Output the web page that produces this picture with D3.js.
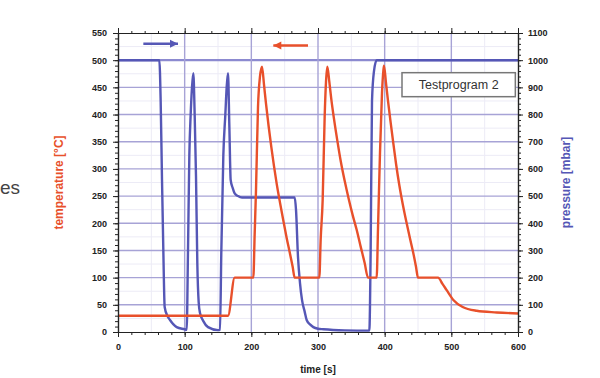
<!DOCTYPE html>
<html>
<head>
<meta charset="utf-8">
<script src="https://cdn.jsdelivr.net/npm/d3@7"></script>
<style>
  html, body { margin: 0; padding: 0; background: #fff; }
  svg { display: block; }
  text { font-family: "Liberation Sans", Arial, sans-serif; }
</style>
</head>
<body>
<script>
// values: time [s] and value
const tempTime  = [0, 165, 175, 203, 205, 207, 210, 213, 216, 219, 222, 226, 230, 234, 238, 243, 248, 253, 258, 262, 265,
                   300, 302, 304, 307, 310, 312, 314, 317, 320, 324, 329, 334, 340, 346, 352, 358, 364, 370, 375,
                   388, 390, 393, 396, 398, 399, 402, 405, 409, 413, 417, 422, 427, 433, 438, 443, 447, 450,
                   480, 487, 493, 503, 517, 538, 568, 600];
const tempValue = [30, 30, 100, 100, 180, 261, 414, 470, 488, 455, 420, 378, 340, 305, 273, 238, 205, 173, 144, 120, 100,
                   100, 100, 170, 243, 396, 460, 488, 460, 428, 392, 352, 315, 278, 245, 215, 188, 157, 127, 100,
                   100, 190, 330, 440, 480, 490, 458, 425, 385, 347, 310, 270, 236, 200, 172, 145, 120, 100,
                   100, 88, 77, 59, 46, 39, 36, 34];

const presTime  = [0, 62, 64, 66, 68, 70, 74, 78, 88, 100, 103, 105, 107, 109, 111, 113, 115, 117, 119, 121, 123,
                   128, 135, 150, 153, 155, 158, 161, 163, 165, 167, 169, 172, 175, 180, 186, 265, 267, 270, 273,
                   276, 280, 283, 288, 293, 300, 308, 340, 377, 379, 381, 384, 388, 600];
const presValue = [1000, 1000, 850, 560, 300, 92, 60, 44, 18, 10, 8, 300, 650, 800, 900, 952, 800, 573, 250, 110, 70,
                   40, 18, 7, 8, 300, 650, 800, 900, 952, 760, 560, 530, 510, 500, 495, 495, 450, 276, 180,
                   118, 75, 44, 28, 18, 12, 10, 6, 5, 300, 850, 960, 1000, 1000];

const timeTicks = [0, 100, 200, 300, 400, 500, 600];
const tempTicks = d3.range(0, 551, 50);
const presTicks = d3.range(0, 1101, 100);

const W = 600, H = 378;
const red = "#e8502b", blue = "#5557b6", grid = "#a7a3d6";

const svg = d3.select("body").append("svg").attr("width", W).attr("height", H);

const x  = d3.scaleLinear().domain([0, 600]).range([118, 518]);
const yT = d3.scaleLinear().domain([0, 550]).range([332, 33]);
const yP = d3.scaleLinear().domain([0, 1100]).range([332, 33]);

// text fragment at the left edge
svg.append("text").attr("x", 0).attr("y", 194).attr("font-size", 19).attr("fill", "#444").text("es");

// faint minor grid
const gMinor = svg.append("g").attr("stroke", "#ecebf6").attr("stroke-width", 1);
gMinor.selectAll("line.h").data(d3.range(25, 550, 50)).enter().append("line")
  .attr("x1", x(0)).attr("x2", x(600)).attr("y1", d => yT(d)).attr("y2", d => yT(d));
gMinor.selectAll("line.v").data(d3.range(50, 600, 100)).enter().append("line")
  .attr("y1", yT(0)).attr("y2", yT(550)).attr("x1", d => x(d)).attr("x2", d => x(d));

// major grid
const gGrid = svg.append("g").attr("stroke", grid).attr("stroke-width", 1.4);
gGrid.selectAll("line.h").data(tempTicks.filter(d => d > 0 && d < 550)).enter().append("line")
  .attr("x1", x(0)).attr("x2", x(600)).attr("y1", d => yT(d)).attr("y2", d => yT(d))
  .attr("stroke", d => d === 500 ? "#8c8ad0" : grid)
  .attr("stroke-width", d => d === 500 ? 2.2 : 1.4);
gGrid.selectAll("line.v").data(timeTicks.filter(d => d > 0 && d < 600)).enter().append("line")
  .attr("y1", yT(0)).attr("y2", yT(550)).attr("x1", d => x(d)).attr("x2", d => x(d));

// curves
const tempLine = d3.line().x((d, i) => x(tempTime[i])).y(d => yT(d)).curve(d3.curveMonotoneX);
const presLine = d3.line().x((d, i) => x(presTime[i])).y(d => yP(d)).curve(d3.curveMonotoneX);

svg.append("path").attr("d", presLine(presValue))
  .attr("fill", "none").attr("stroke", blue).attr("stroke-width", 2.4).attr("stroke-linejoin", "round");
svg.append("path").attr("d", tempLine(tempValue))
  .attr("fill", "none").attr("stroke", red).attr("stroke-width", 2.4).attr("stroke-linejoin", "round");

// axes
const fmtAxis = g => {
  g.select(".domain").attr("stroke", "#222").attr("stroke-width", 1.2);
  g.selectAll(".tick line").attr("stroke", "#222");
  g.selectAll(".tick text").attr("font-size", 9).attr("font-weight", "bold").attr("fill", "#222")
    .attr("font-family", "'Liberation Sans', Arial, sans-serif");
};
const minor = (axis, vals) => axis.tickValues(vals).tickFormat("").tickSizeOuter(0);

svg.append("g").attr("transform", `translate(0,${yT(0)})`)
  .call(minor(d3.axisBottom(x).tickSize(3), d3.range(0, 601, 20))).call(fmtAxis);
svg.append("g").attr("transform", `translate(0,${yT(0)})`)
  .call(d3.axisBottom(x).tickValues(timeTicks).tickSize(5).tickPadding(7).tickSizeOuter(0)).call(fmtAxis);

svg.append("g").attr("transform", `translate(0,${yT(550)})`)
  .call(minor(d3.axisTop(x).tickSize(2), d3.range(0, 601, 20))).call(fmtAxis);
svg.append("g").attr("transform", `translate(0,${yT(550)})`)
  .call(d3.axisTop(x).tickValues(timeTicks).tickSize(5).tickFormat("").tickSizeOuter(0)).call(fmtAxis);

svg.append("g").attr("transform", `translate(${x(0)},0)`)
  .call(minor(d3.axisLeft(yT).tickSize(3), d3.range(0, 551, 10))).call(fmtAxis);
svg.append("g").attr("transform", `translate(${x(0)},0)`)
  .call(d3.axisLeft(yT).tickValues(tempTicks).tickSize(5).tickPadding(6).tickSizeOuter(0)).call(fmtAxis);

svg.append("g").attr("transform", `translate(${x(600)},0)`)
  .call(minor(d3.axisRight(yP).tickSize(3), d3.range(0, 1101, 20))).call(fmtAxis);
svg.append("g").attr("transform", `translate(${x(600)},0)`)
  .call(d3.axisRight(yP).tickValues(presTicks).tickFormat(d3.format("d"))
    .tickSize(5).tickPadding(5).tickSizeOuter(0)).call(fmtAxis);

// axis titles
svg.append("text").attr("transform", `translate(${x(300)},${H - 5})`)
  .attr("text-anchor", "middle").attr("font-size", 10).attr("font-weight", "bold").attr("fill", "#222")
  .text("time [s]");
svg.append("text").attr("transform", `translate(63,${(yT(0) + yT(550)) / 2}) rotate(-90)`)
  .attr("text-anchor", "middle").attr("font-size", 12).attr("font-weight", "bold").attr("fill", red)
  .text("temperature [°C]");
svg.append("text").attr("transform", `translate(570,${(yT(0) + yT(550)) / 2}) rotate(-90)`)
  .attr("text-anchor", "middle").attr("font-size", 12).attr("font-weight", "bold").attr("fill", blue)
  .text("pressure [mbar]");

// direction arrows
const arrow = (x1, x2, y, c) => {
  svg.append("line").attr("x1", x(x1)).attr("x2", x(x2)).attr("y1", yT(y)).attr("y2", yT(y))
    .attr("stroke", c).attr("stroke-width", 2.5);
  const dir = x2 > x1 ? 1 : -1, tip = x(x2);
  svg.append("path")
    .attr("d", `M${tip},${yT(y)} L${tip - dir * 8},${yT(y) - 4} L${tip - dir * 8},${yT(y) + 4} Z`)
    .attr("fill", c);
};
arrow(38, 90, 530, blue);
arrow(285, 233, 527, red);

// legend box
const lg = svg.append("g").attr("transform", `translate(${x(426)},${yT(477)})`);
lg.append("rect").attr("width", x(596) - x(426)).attr("height", 24)
  .attr("fill", "#fff").attr("stroke", "#777").attr("stroke-width", 1.5);
lg.append("text").attr("x", (x(596) - x(426)) / 2).attr("y", 16.5).attr("text-anchor", "middle")
  .attr("font-size", 12.5).attr("fill", "#333").text("Testprogram 2");
</script>
</body>
</html>
